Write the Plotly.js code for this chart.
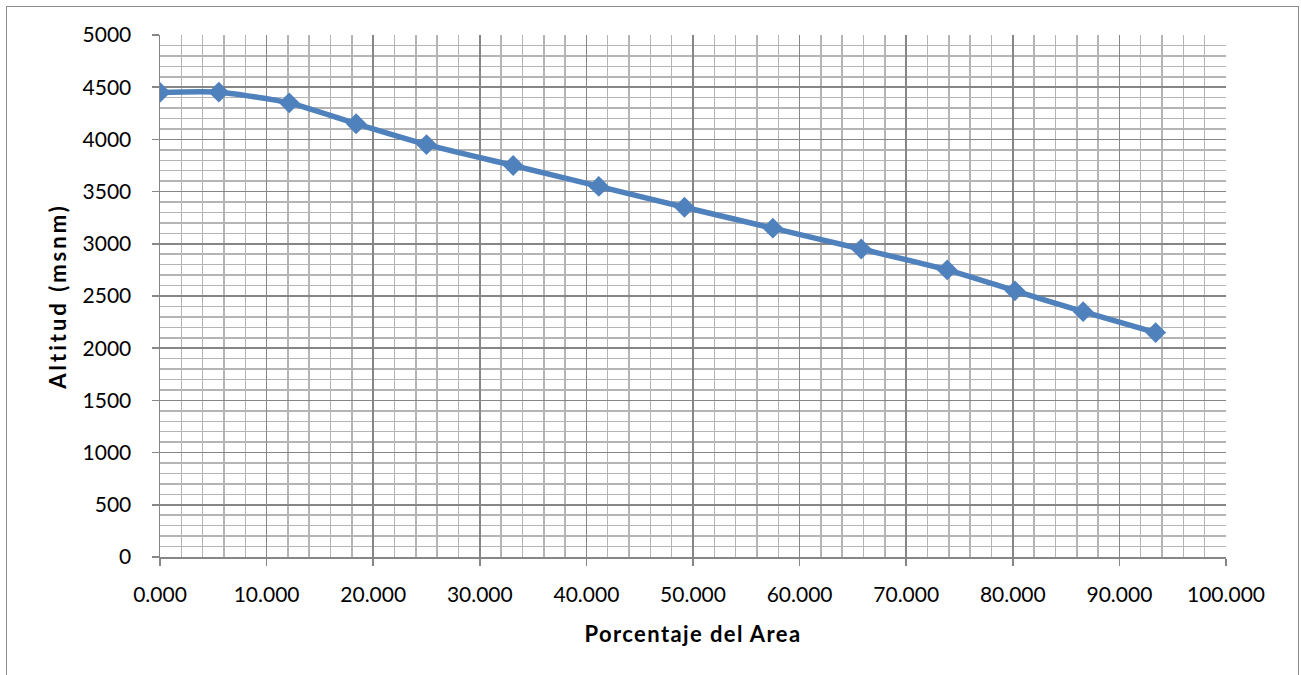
<!DOCTYPE html>
<html>
<head>
<meta charset="utf-8">
<script src="https://cdn.plot.ly/plotly-3.0.1.min.js"></script>
<style>
  html, body { margin: 0; padding: 0; background: #fff; }
  #wrap { position: relative; width: 1301px; height: 675px; }
  #chart { width: 1301px; height: 675px; }
  #frame { position: absolute; left: 6px; top: 6px; width: 1293px; height: 700px;
           border: 1.5px solid #8c8c8c; pointer-events: none; box-sizing: border-box; }
  .g-xtitle text { letter-spacing: 1.4px; }
  .g-ytitle text { letter-spacing: 3px; }
</style>
</head>
<body>
<div id="wrap">
  <div id="chart"></div>
  <div id="frame"></div>
</div>
<script>
// Hypsometric curve: percentage of area vs altitude
const porcentajeArea = [0.000, 5.52, 12.12, 18.40, 25.00, 33.13, 41.16, 49.20, 57.49, 65.78, 73.85, 80.20, 86.60, 93.40];
const altitud = [4450, 4452, 4350, 4150, 3950, 3750, 3550, 3350, 3150, 2950, 2750, 2550, 2350, 2150];
const xTitle = "Porcentaje del Area";
const yTitle = "Altitud (msnm)";

const FONT = "Lato, 'Open Sans', sans-serif";

const trace = {
  x: porcentajeArea,
  y: altitud,
  type: "scatter",
  mode: "lines+markers",
  line: { color: "#4F81BD", width: 5.5, shape: "spline", smoothing: 0.6 },
  marker: { symbol: "diamond", size: 16, color: "#4F81BD" },
  hoverinfo: "x+y",
  showlegend: false
};

const layout = {
  width: 1301,
  height: 675,
  paper_bgcolor: "#ffffff",
  plot_bgcolor: "#ffffff",
  margin: { l: 160, r: 75, t: 35, b: 118, pad: 0 },
  font: { family: FONT, size: 21, color: "#000" },
  xaxis: {
    range: [0, 100],
    dtick: 10,
    tick0: 0,
    tickformat: ".3f",
    ticks: "outside",
    ticklen: 7,
    tickwidth: 1.5,
    tickcolor: "#868686",
    ticklabelstandoff: 11,
    showline: true,
    linecolor: "#868686",
    linewidth: 1.5,
    showgrid: true,
    gridcolor: "#868686",
    gridwidth: 1.5,
    minor: { dtick: 2, showgrid: true, gridcolor: "#b4b4b4", gridwidth: 1.5, ticks: "" },
    zeroline: false,
    tickfont: { family: FONT, size: 21, color: "#000" },
    title: { text: "<b>" + xTitle + "</b>", font: { family: FONT, size: 22, color: "#000" }, standoff: 22 },
    fixedrange: true
  },
  yaxis: {
    range: [0, 5000],
    dtick: 500,
    tick0: 0,
    ticks: "outside",
    ticklen: 7,
    tickwidth: 1.5,
    tickcolor: "#868686",
    ticklabelstandoff: 16,
    showline: true,
    linecolor: "#868686",
    linewidth: 1.5,
    showgrid: true,
    gridcolor: "#868686",
    gridwidth: 1.5,
    minor: { dtick: 100, showgrid: true, gridcolor: "#b4b4b4", gridwidth: 1.5, ticks: "" },
    zeroline: false,
    tickfont: { family: FONT, size: 21, color: "#000" },
    title: { text: "<b>" + yTitle + "</b>", font: { family: FONT, size: 22, color: "#000" }, standoff: 10 },
    fixedrange: true
  }
};

Plotly.newPlot("chart", [trace], layout, { displayModeBar: false, staticPlot: true });
</script>
</body>
</html>
